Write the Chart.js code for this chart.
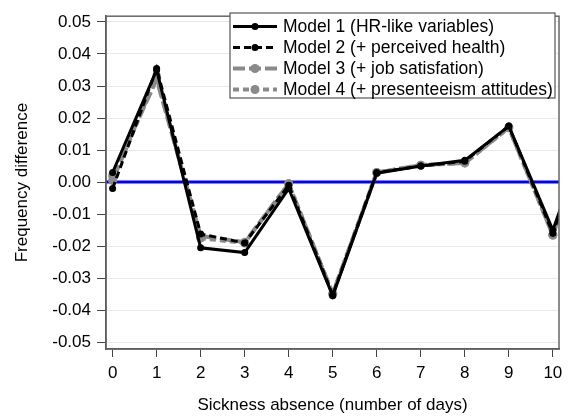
<!DOCTYPE html>
<html>
<head>
<meta charset="utf-8">
<script src="https://cdn.jsdelivr.net/npm/chart.js@4/dist/chart.umd.min.js"></script>
<style>
  html, body { margin: 0; padding: 0; background: #fff; }
  #wrap { width: 570px; height: 420px; }
</style>
</head>
<body>
<div id="wrap"><canvas id="c" width="570" height="420"></canvas></div>
<script>
// Sickness absence days (the last point lies just past the visible range)
const days = [0, 1, 2, 3, 4, 5, 6, 7, 8, 9, 10, 11];

// Frequency difference per model
const model1 = [0.003, 0.035, -0.0205, -0.022, -0.002, -0.0355, 0.0028, 0.005, 0.0068, 0.0175, -0.015, 0.024];
const model2 = [-0.002, 0.0355, -0.0162, -0.019, -0.001, -0.0352, 0.003, 0.005, 0.0065, 0.0175, -0.016, 0.024];
const model3 = [0.002, 0.032, -0.0168, -0.0188, -0.0005, -0.0348, 0.003, 0.0053, 0.006, 0.017, -0.0165, 0.023];
const model4 = [0.0005, 0.033, -0.0175, -0.019, -0.0005, -0.035, 0.003, 0.0053, 0.006, 0.017, -0.0165, 0.023];

const seriesLabels = [
  'Model 1 (HR-like variables)',
  'Model 2 (+ perceived health)',
  'Model 3 (+ job satisfation)',
  'Model 4 (+ presenteeism attitudes)'
];

const yTicks = [-0.05, -0.04, -0.03, -0.02, -0.01, 0, 0.01, 0.02, 0.03, 0.04, 0.05];
const xTicks = [0, 1, 2, 3, 4, 5, 6, 7, 8, 9, 10];
const referenceLevel = 0;

const FONT = '"Liberation Sans", Arial, Helvetica, sans-serif';
const BLACK = '#000000';
const GREY = '#8a8a8a';

function pts(vals) { return days.map((d, i) => ({ x: d, y: vals[i] })); }

const styles = [
  { color: BLACK, dash: [], width: 3, r: 3.5, order: 1 },
  { color: BLACK, dash: [7, 4], width: 3, r: 3.5, order: 0 },
  { color: GREY, dash: [12, 4], width: 4, r: 4.5, order: 3 },
  { color: GREY, dash: [6, 4], width: 4, r: 4.5, order: 2 }
];

const datasets = [model1, model2, model3, model4].map((vals, i) => ({
  label: seriesLabels[i],
  data: pts(vals),
  borderColor: styles[i].color,
  backgroundColor: styles[i].color,
  borderWidth: styles[i].width,
  borderDash: styles[i].dash,
  pointRadius: styles[i].r,
  pointBorderWidth: 0,
  pointBackgroundColor: styles[i].color,
  tension: 0,
  order: styles[i].order,
  clip: 0
}));

// Blue horizontal line at zero, under the series
const zeroLine = {
  id: 'zeroLine',
  beforeDatasetsDraw(chart) {
    const { ctx, chartArea: a, scales: { y } } = chart;
    const py = y.getPixelForValue(referenceLevel);
    ctx.save();
    ctx.strokeStyle = '#0000ff';
    ctx.lineWidth = 3;
    ctx.beginPath();
    ctx.moveTo(a.left, py);
    ctx.lineTo(a.right, py);
    ctx.stroke();
    ctx.restore();
  }
};

// Frame around the plotting area
const frame = {
  id: 'frame',
  afterDatasetsDraw(chart) {
    const { ctx, chartArea: a } = chart;
    ctx.save();
    ctx.strokeStyle = '#666';
    ctx.lineWidth = 1.5;
    ctx.strokeRect(a.left, a.top, a.right - a.left, a.bottom - a.top);
    ctx.restore();
  }
};

// Legend box inside the top-right of the plot
const insideLegend = {
  id: 'insideLegend',
  afterDraw(chart) {
    const { ctx } = chart;
    const box = { x: 230, y: 13, w: 325, h: 85 };
    ctx.save();
    ctx.fillStyle = '#fff';
    ctx.fillRect(box.x, box.y, box.w, box.h);
    ctx.strokeStyle = '#555';
    ctx.lineWidth = 1.2;
    ctx.strokeRect(box.x, box.y, box.w, box.h);
    ctx.font = '17.5px ' + FONT;
    ctx.textBaseline = 'middle';
    ctx.textAlign = 'left';
    chart.data.datasets.forEach((ds, i) => {
      const cy = box.y + 13.5 + i * 21;
      ctx.strokeStyle = ds.borderColor;
      ctx.lineWidth = ds.borderWidth;
      ctx.setLineDash(ds.borderDash);
      ctx.beginPath();
      ctx.moveTo(box.x + 3, cy);
      ctx.lineTo(box.x + 47, cy);
      ctx.stroke();
      ctx.setLineDash([]);
      ctx.fillStyle = ds.borderColor;
      ctx.beginPath();
      ctx.arc(box.x + 25, cy, ds.pointRadius, 0, Math.PI * 2);
      ctx.fill();
      ctx.fillStyle = '#000';
      ctx.fillText(ds.label, box.x + 53, cy + 1);
    });
    ctx.restore();
  }
};

new Chart(document.getElementById('c'), {
  type: 'line',
  data: { datasets },
  plugins: [zeroLine, frame, insideLegend],
  options: {
    responsive: false,
    animation: false,
    events: [],
    layout: { padding: { top: 10, right: 11, left: 0, bottom: 0 } },
    plugins: { legend: { display: false }, tooltip: { enabled: false } },
    scales: {
      x: {
        type: 'linear',
        min: -0.15,
        max: 10.14,
        afterBuildTicks(scale) { scale.ticks = xTicks.map(v => ({ value: v })); },
        afterFit(scale) { scale.height = 71; },
        grid: { drawOnChartArea: false, drawTicks: true, tickLength: 8, tickColor: '#444', tickWidth: 1 },
        border: { display: true, color: '#444', width: 1.5 },
        ticks: { color: '#000', font: { family: FONT, size: 17 }, padding: 6, maxRotation: 0, callback: v => String(v) },
        title: { display: true, text: 'Sickness absence (number of days)', color: '#000', font: { family: FONT, size: 17 }, padding: { top: 2, bottom: 4 } }
      },
      y: {
        type: 'linear',
        min: -0.0521,
        max: 0.0518,
        afterBuildTicks(scale) { scale.ticks = yTicks.map(v => ({ value: v })); },
        afterFit(scale) { scale.width = 106; },
        grid: { color: '#e8e8e8', lineWidth: 1, drawTicks: true, tickLength: 9, tickColor: '#444', tickWidth: 1 },
        border: { display: true, color: '#444', width: 1.5 },
        ticks: { color: '#000', font: { family: FONT, size: 17 }, padding: 6, callback: v => v.toFixed(2) },
        title: { display: true, text: 'Frequency difference', color: '#000', font: { family: FONT, size: 17 }, padding: { top: 12, bottom: 4 } }
      }
    }
  }
});
</script>
</body>
</html>
